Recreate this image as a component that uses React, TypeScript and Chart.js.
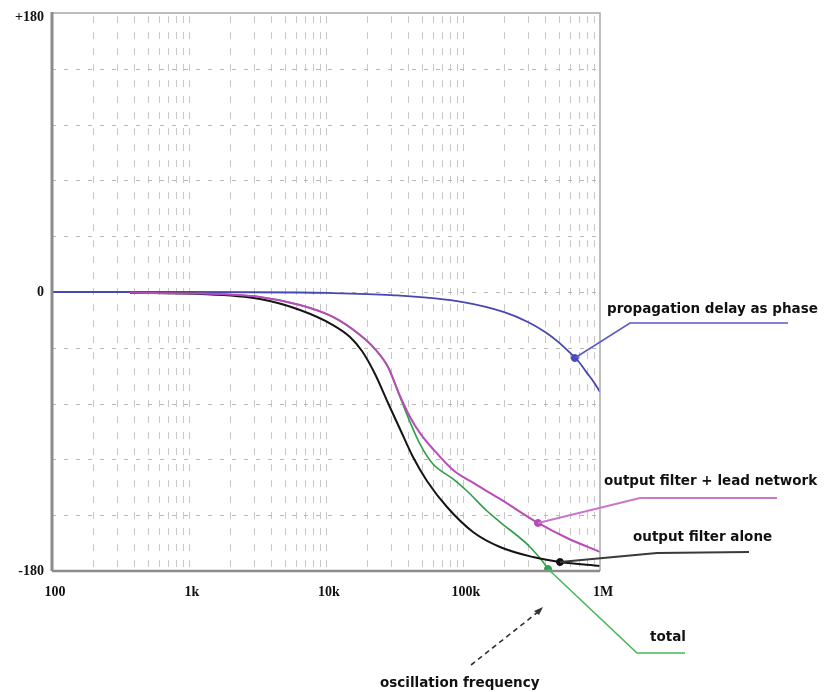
import React, { useEffect, useRef } from "react";
import { Chart, registerables } from "chart.js";

Chart.register(...registerables);

// ---- data (frequency in Hz, phase in degrees) ----
const freqBlue = [100, 1000, 10000, 30000, 100000, 200000, 300000, 400000, 500000, 600000, 700000, 800000, 900000, 1000000];
const phaseBlue = [0, 0, -0.6, -2, -6.5, -13, -19.5, -26, -32.5, -39, -45, -52, -58, -64.5];

const freqBlack = [371, 1203, 3297, 6460, 11250, 14970, 18310, 22790, 28360, 34680, 43150, 54600, 76430, 118300, 186200, 324300, 510500, 1000000];
const phaseBlack = [-0.6, -1.3, -4.5, -11.6, -21.3, -29.0, -38.1, -52.9, -71.6, -88.4, -106.5, -121.9, -138.7, -154.8, -164.5, -171.0, -174.2, -176.8];

const freqMagenta = [371, 1203, 3297, 6460, 11250, 17710, 22790, 28360, 34680, 41040, 48540, 60390, 84530, 112500, 186200, 352700, 574200, 1000000];
const phaseMagenta = [-0.5, -1.0, -3.2, -8.4, -16.1, -27.7, -36.8, -48.4, -67.1, -80.6, -91.0, -101.3, -114.8, -121.9, -133.5, -149.0, -158.7, -167.7];

const freqGreen = [371, 1203, 3297, 6460, 11250, 17710, 22790, 28360, 34680, 41040, 48540, 60390, 84530, 106900, 149700, 186200, 308400, 417300, 425000];
const phaseGreen = [-0.5, -1.0, -3.2, -8.4, -16.1, -27.7, -36.8, -48.4, -67.7, -83.9, -98.1, -111.0, -120.6, -128.4, -141.3, -148.4, -164.5, -178.7, -180];

const markerFreq = [655000, 352700, 510500, 417300];
const markerPhase = [-42.6, -149.0, -174.2, -178.7];
const markerColors = ["#4a4ab8", "#b848b8", "#111111", "#2fa050"];

const xTickValues = [100, 1000, 10000, 100000, 1000000];
const xTickLabels = ["100", "1k", "10k", "100k", "1M"];
const yTickValues = [180, 0, -180];
const yTickLabels = ["+180", "0", "-180"];
const yGridStep = 36;

const annotationTexts = [
  "propagation delay as phase",
  "output filter + lead network",
  "output filter alone",
  "total",
  "oscillation frequency",
];

const toPts = (xs: number[], ys: number[]) => xs.map((x, i) => ({ x, y: ys[i] }));

const LABEL_FONT = 'bold 13.5px "DejaVu Sans", sans-serif';
const AXIS_FONT = 'bold 14px "Liberation Serif", serif';

const decorPlugin = {
  id: "decor",
  beforeDatasetsDraw(chart: any) {
    const ctx = chart.ctx as CanvasRenderingContext2D;
    const xs = chart.scales.x;
    const ys = chart.scales.y;
    const { left, right, top, bottom } = chart.chartArea;
    ctx.save();
    // vertical grid
    ctx.strokeStyle = "#c8c8c8";
    ctx.lineWidth = 1;
    ctx.setLineDash([7, 9]);
    for (let d = 100; d < 1000000; d *= 10) {
      for (let k = 1; k <= 9; k++) {
        const v = d * k;
        if (v <= 100) continue;
        const px = Math.round(xs.getPixelForValue(v)) + 0.5;
        ctx.beginPath();
        ctx.moveTo(px, top + 3);
        ctx.lineTo(px, bottom);
        ctx.stroke();
      }
    }
    // horizontal grid
    ctx.strokeStyle = "#b8b8b8";
    ctx.setLineDash([4, 8]);
    for (let v = -180 + yGridStep; v < 180; v += yGridStep) {
      const py = Math.round(ys.getPixelForValue(v)) + 0.5;
      ctx.beginPath();
      ctx.moveTo(left, py);
      ctx.lineTo(right, py);
      ctx.stroke();
    }
    ctx.setLineDash([]);
    ctx.restore();
  },
  afterDatasetsDraw(chart: any) {
    const ctx = chart.ctx as CanvasRenderingContext2D;
    const xs = chart.scales.x;
    const ys = chart.scales.y;
    const { left, right, top, bottom } = chart.chartArea;
    ctx.save();
    // frame
    ctx.strokeStyle = "#a8a8a8";
    ctx.lineWidth = 1.5;
    ctx.beginPath();
    ctx.moveTo(left, top);
    ctx.lineTo(right, top);
    ctx.lineTo(right, bottom);
    ctx.stroke();
    ctx.strokeStyle = "#8c8c8c";
    ctx.lineWidth = 3;
    ctx.beginPath();
    ctx.moveTo(left, top - 1);
    ctx.lineTo(left, bottom);
    ctx.stroke();
    ctx.lineWidth = 2.5;
    ctx.beginPath();
    ctx.moveTo(left, bottom);
    ctx.lineTo(right, bottom);
    ctx.stroke();

    // axis labels
    ctx.fillStyle = "#111";
    ctx.font = AXIS_FONT;
    ctx.textBaseline = "middle";
    ctx.textAlign = "center";
    xTickValues.forEach((v, i) => {
      ctx.fillText(xTickLabels[i], xs.getPixelForValue(v) + 3, bottom + 21);
    });
    ctx.textAlign = "right";
    yTickValues.forEach((v, i) => {
      ctx.fillText(yTickLabels[i], left - 8, ys.getPixelForValue(v) + (i === 0 ? 4 : 0));
    });

    // leader lines from markers
    const mp = markerFreq.map((f, i) => ({ x: xs.getPixelForValue(f), y: ys.getPixelForValue(markerPhase[i]) }));
    const leader = (p: { x: number; y: number }, pts: number[][], color: string, w: number) => {
      ctx.strokeStyle = color;
      ctx.lineWidth = w;
      ctx.beginPath();
      ctx.moveTo(p.x, p.y);
      pts.forEach(([a, b]) => ctx.lineTo(a, b));
      ctx.stroke();
    };
    leader(mp[0], [[630, 323], [788, 323]], "#5a5ac4", 1.6);
    leader(mp[1], [[640, 498], [777, 498]], "#c878c8", 2);
    leader(mp[2], [[657, 553], [749, 552]], "#3a3a3a", 2);
    leader(mp[3], [[637, 653], [685, 653]], "#49b85a", 1.6);

    // oscillation frequency dashed arrow
    ctx.strokeStyle = "#333";
    ctx.lineWidth = 1.6;
    ctx.setLineDash([5, 4]);
    ctx.beginPath();
    ctx.moveTo(471, 665);
    ctx.lineTo(538, 612);
    ctx.stroke();
    ctx.setLineDash([]);
    ctx.fillStyle = "#333";
    ctx.beginPath();
    ctx.moveTo(543, 607);
    ctx.lineTo(534, 611);
    ctx.lineTo(539, 615);
    ctx.closePath();
    ctx.fill();

    // annotation texts
    ctx.fillStyle = "#111";
    ctx.font = LABEL_FONT;
    ctx.textAlign = "left";
    ctx.textBaseline = "middle";
    ctx.fillText(annotationTexts[0], 607, 309);
    ctx.fillText(annotationTexts[1], 604, 481);
    ctx.fillText(annotationTexts[2], 633, 537);
    ctx.fillText(annotationTexts[3], 650, 637);
    ctx.fillText(annotationTexts[4], 380, 683);
    ctx.restore();
  },
};

export default function App() {
  const ref = useRef<HTMLCanvasElement | null>(null);
  useEffect(() => {
    if (!ref.current) return;
    const lineDs = (label: string, xs: number[], ys: number[], color: string, width: number, order: number) => ({
      label,
      data: toPts(xs, ys),
      borderColor: color,
      backgroundColor: color,
      borderWidth: width,
      pointRadius: 0,
      cubicInterpolationMode: "monotone" as const,
      fill: false,
      order,
    });
    const chart = new Chart(ref.current, {
      type: "line",
      data: {
        datasets: [
          {
            type: "scatter" as const,
            label: "markers",
            data: toPts(markerFreq, markerPhase),
            pointRadius: 3.5,
            pointBackgroundColor: markerColors,
            pointBorderColor: markerColors,
            showLine: false,
            order: 0,
          } as any,
          lineDs("output filter + lead network", freqMagenta, phaseMagenta, "#b84cb8", 2, 1),
          lineDs("output filter alone", freqBlack, phaseBlack, "#151515", 2, 2),
          lineDs("total", freqGreen, phaseGreen, "#2e9e48", 1.6, 3),
          lineDs("propagation delay as phase", freqBlue, phaseBlue, "#4646b4", 1.8, 4),
        ],
      },
      options: {
        animation: false,
        responsive: false,
        layout: { padding: { left: 52, top: 13, right: 236, bottom: 121 } },
        plugins: { legend: { display: false }, tooltip: { enabled: false } },
        scales: {
          x: { type: "logarithmic", min: 100, max: 1000000, display: false },
          y: { type: "linear", min: -180, max: 180, display: false },
        },
      },
      plugins: [decorPlugin],
    });
    return () => chart.destroy();
  }, []);
  return (
    <div style={{ position: "absolute", left: 0, top: 0, width: 836, height: 692, background: "#fff" }}>
      <canvas ref={ref} width={836} height={692} style={{ display: "block" }} />
    </div>
  );
}
